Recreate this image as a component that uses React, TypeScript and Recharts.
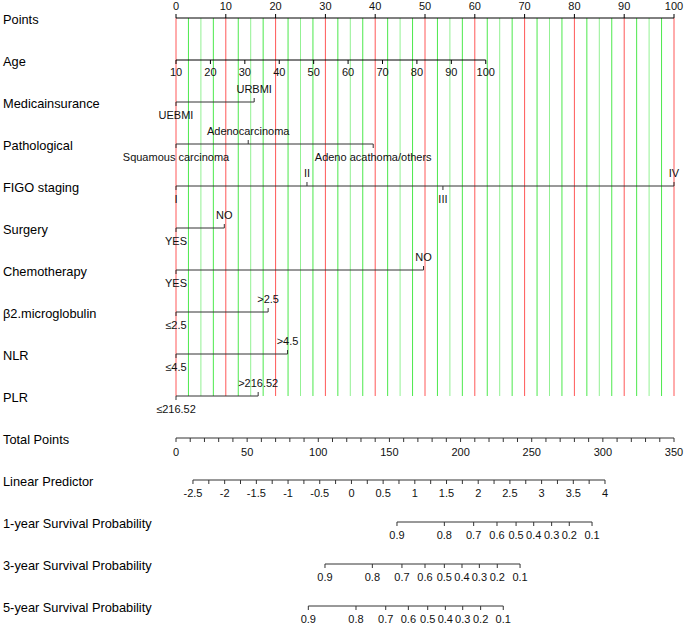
import React from 'react';
import { ComposedChart, XAxis, YAxis, Scatter, ReferenceLine } from 'recharts';

// row titles, top to bottom
const rowNames = [
    'Points',
    'Age',
    'Medicainsurance',
    'Pathological',
    'FIGO staging',
    'Surgery',
    'Chemotherapy',
    'β2.microglobulin',
    'NLR',
    'PLR',
    'Total Points',
    'Linear Predictor',
    '1-year Survival Probability',
    '3-year Survival Probability',
    '5-year Survival Probability'
];

const pointTicks = [0, 10, 20, 30, 40, 50, 60, 70, 80, 90, 100];

const ageTicks = [10, 20, 30, 40, 50, 60, 70, 80, 90, 100];
const ageMaxPoints = 62.2; // points given to age 100 (age 10 = 0)

const insuranceLevels = ['UEBMI', 'URBMI'];
const insurancePoints = [0, 15.7];

const pathologicalLevels = ['Squamous carcinoma', 'Adenocarcinoma', 'Adeno acathoma/others'];
const pathologicalPoints = [0, 14.5, 39.6];

const figoLevels = ['I', 'II', 'III', 'IV'];
const figoPoints = [0, 26.3, 53.6, 100];

const surgeryLevels = ['YES', 'NO'];
const surgeryPoints = [0, 9.7];

const chemoLevels = ['YES', 'NO'];
const chemoPoints = [0, 49.7];

const b2mLevels = ['≤2.5', '>2.5'];
const b2mPoints = [0, 18.5];

const nlrLevels = ['≤4.5', '>4.5'];
const nlrPoints = [0, 22.4];

const plrLevels = ['≤216.52', '>216.52'];
const plrPoints = [0, 16.5];

const totalMax = 350;
const totalMajor = [0, 50, 100, 150, 200, 250, 300, 350];

const lpMajor = [-2.5, -2, -1.5, -1, -0.5, 0, 0.5, 1, 1.5, 2, 2.5, 3, 3.5, 4];
const lpZeroTotal = 123.3; // total points at linear predictor 0
const totalPerLp = 44.55;

const probLabels = ['0.9', '0.8', '0.7', '0.6', '0.5', '0.4', '0.3', '0.2', '0.1'];
const surv1Total = [155.3, 188.6, 209.2, 225.6, 239.0, 251.4, 264.0, 276.4, 292.4];
const surv3Total = [104.7, 138.0, 158.8, 175.0, 188.6, 201.0, 213.2, 225.8, 241.8];
const surv5Total = [93.0, 126.5, 147.4, 163.3, 176.9, 189.3, 201.5, 214.1, 230.0];

// layout helpers (row units: one row = 42px)
const ROW_PX = 42;
const px = (p: number) => p / ROW_PX;
const TICK = px(4);
const LABEL_OFF = px(13);
const FONT = '"Liberation Sans", Arial, sans-serif';
const AXIS_COLOR = '#222';

const fromTotal = (t: number) => (t * 100) / totalMax;
const fromLp = (lp: number) => fromTotal(lpZeroTotal + totalPerLp * lp);
const fromAge = (a: number) => ((a - 10) / 90) * ageMaxPoints;

type TextItem = { x: number; y: number; text: string };

const seg = (key: string, x1: number, y1: number, x2: number, y2: number, stroke = AXIS_COLOR, opacity = 1) => (
    <ReferenceLine
        key={key}
        segment={[{ x: x1, y: y1 }, { x: x2, y: y2 }]}
        stroke={stroke}
        strokeOpacity={opacity}
        strokeWidth={1}
        ifOverflow="visible"
    />
);

const RowName = ({ y, payload }: any) => (
    <text x={3} y={y + 1} dominantBaseline="central" fontSize={12.8} fontFamily={FONT} fill="#000">
        {rowNames[payload.value]}
    </text>
);

const LabelShape = (props: any) => {
    const { cx, cy, payload } = props;
    return (
        <text x={cx} y={cy} textAnchor="middle" dominantBaseline="central" fontSize={11} fontFamily={FONT} fill="#111">
            {payload.text}
        </text>
    );
};

const App = () => {
    const lines: React.ReactNode[] = [];
    const texts: TextItem[] = [];

    // vertical guide lines every 2.5 points
    for (let i = 0; i <= 40; i++) {
        const p = i * 2.5;
        const red = i % 4 === 0;
        const op = red ? 0.75 : i % 2 === 0 ? 0.45 : 0.75;
        lines.push(seg(`g${i}`, p, 0, p, 9, red ? '#ff2020' : '#10e010', op));
    }

    // Points axis
    lines.push(seg('pts', 0, 0, 100, 0, '#000'));
    pointTicks.forEach((t) => {
        lines.push(seg(`pt${t}`, t, 0, t, -TICK, '#000'));
        texts.push({ x: t, y: -px(12), text: String(t) });
    });

    // Age axis
    lines.push(seg('age', 0, 1, ageMaxPoints, 1, '#000'));
    ageTicks.forEach((a) => {
        lines.push(seg(`ag${a}`, fromAge(a), 1, fromAge(a), 1 + TICK, '#000'));
        texts.push({ x: fromAge(a), y: 1 + px(12), text: String(a) });
    });

    // categorical rows
    const cats: [string[], number[]][] = [
        [insuranceLevels, insurancePoints],
        [pathologicalLevels, pathologicalPoints],
        [figoLevels, figoPoints],
        [surgeryLevels, surgeryPoints],
        [chemoLevels, chemoPoints],
        [b2mLevels, b2mPoints],
        [nlrLevels, nlrPoints],
        [plrLevels, plrPoints]
    ];
    cats.forEach(([levels, pts], k) => {
        const row = 2 + k;
        lines.push(seg(`c${row}`, Math.min(...pts), row, Math.max(...pts), row, '#333'));
        levels.forEach((lab, j) => {
            const dir = j % 2 === 1 ? -1 : 1;
            lines.push(seg(`c${row}-${j}`, pts[j], row, pts[j], row + dir * TICK, '#333'));
            texts.push({ x: pts[j], y: row + dir * LABEL_OFF, text: lab });
        });
    });

    // Total points
    lines.push(seg('tot', 0, 10, 100, 10, '#333'));
    for (let t = 0; t <= totalMax; t += 10) {
        lines.push(seg(`tt${t}`, fromTotal(t), 10, fromTotal(t), 10 + TICK, '#333'));
    }
    totalMajor.forEach((t) => texts.push({ x: fromTotal(t), y: 10 + px(14), text: String(t) }));

    // Linear predictor
    lines.push(seg('lp', fromLp(lpMajor[0]), 11, fromLp(lpMajor[lpMajor.length - 1]), 11, '#333'));
    for (let v = lpMajor[0]; v <= lpMajor[lpMajor.length - 1] + 1e-9; v += 0.25) {
        lines.push(seg(`lt${v}`, fromLp(v), 11, fromLp(v), 11 + TICK, '#333'));
    }
    lpMajor.forEach((v) => texts.push({ x: fromLp(v), y: 11 + px(13), text: String(v) }));

    // survival probabilities
    [surv1Total, surv3Total, surv5Total].forEach((vals, k) => {
        const row = 12 + k;
        lines.push(seg(`s${row}`, fromTotal(vals[0]), row, fromTotal(vals[vals.length - 1]), row, '#333'));
        vals.forEach((t, j) => {
            lines.push(seg(`s${row}-${j}`, fromTotal(t), row, fromTotal(t), row + TICK, '#333'));
            texts.push({ x: fromTotal(t), y: row + px(12.5), text: probLabels[j] });
        });
    });

    return (
        <div style={{ position: 'absolute', left: 0, top: 0, background: '#fff' }}>
            <ComposedChart width={685} height={624} margin={{ top: 0, right: 11, bottom: 0, left: 0 }}>
                <XAxis type="number" dataKey="x" domain={[0, 100]} hide />
                <YAxis
                    type="number"
                    dataKey="y"
                    domain={[-px(18), px(624 - 18)]}
                    reversed
                    width={176}
                    ticks={rowNames.map((_, i) => i)}
                    interval={0}
                    tick={<RowName />}
                    tickLine={false}
                    axisLine={false}
                />
                {lines}
                <Scatter data={texts} dataKey="y" shape={<LabelShape />} isAnimationActive={false} />
            </ComposedChart>
        </div>
    );
};

export default App;
